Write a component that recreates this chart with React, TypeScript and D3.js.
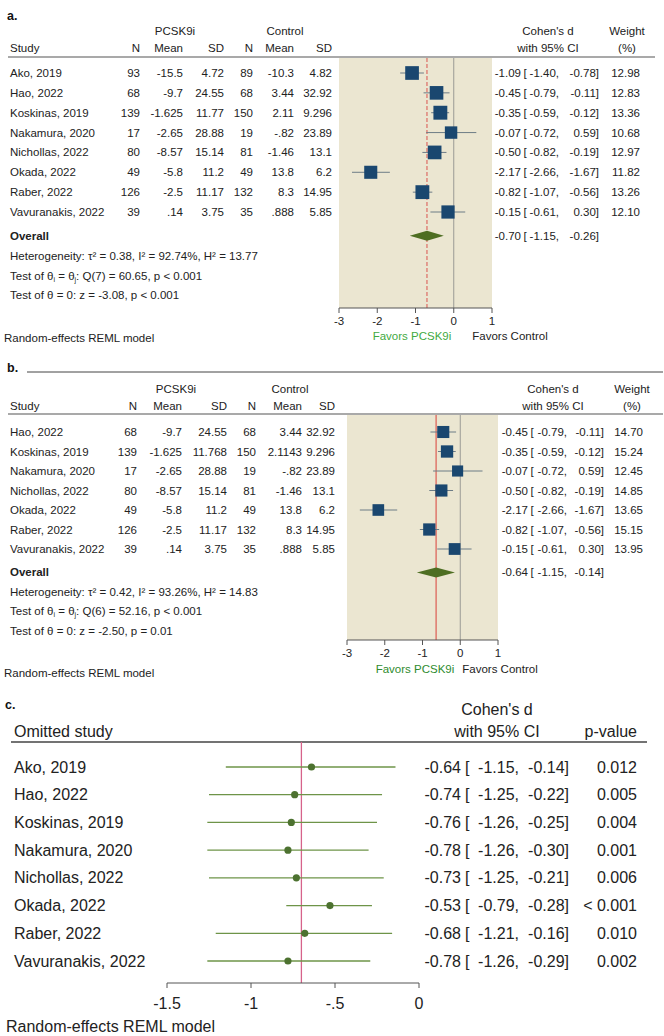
import React from 'react';
import { scaleLinear } from 'd3';

const FONT = '"Liberation Sans", Arial, Helvetica, sans-serif';

// ---- panel a: all studies ----
const studiesA = ['Ako, 2019', 'Hao, 2022', 'Koskinas, 2019', 'Nakamura, 2020', 'Nichollas, 2022', 'Okada, 2022', 'Raber, 2022', 'Vavuranakis, 2022'];
const nTreatA = ['93', '68', '139', '17', '80', '49', '126', '39'];
const meanTreatA = ['-15.5', '-9.7', '-1.625', '-2.65', '-8.57', '-5.8', '-2.5', '.14'];
const sdTreatA = ['4.72', '24.55', '11.77', '28.88', '15.14', '11.2', '11.17', '3.75'];
const nCtrlA = ['89', '68', '150', '19', '81', '49', '132', '35'];
const meanCtrlA = ['-10.3', '3.44', '2.11', '-.82', '-1.46', '13.8', '8.3', '.888'];
const sdCtrlA = ['4.82', '32.92', '9.296', '23.89', '13.1', '6.2', '14.95', '5.85'];
const dA = [-1.09, -0.45, -0.35, -0.07, -0.50, -2.17, -0.82, -0.15];
const loA = [-1.40, -0.79, -0.59, -0.72, -0.82, -2.66, -1.07, -0.61];
const hiA = [-0.78, -0.11, -0.12, 0.59, -0.19, -1.67, -0.56, 0.30];
const weightA = [12.98, 12.83, 13.36, 10.68, 12.97, 11.82, 13.26, 12.10];
const overallA = [-0.70, -1.15, -0.26];
const statsA = ['0.38', '92.74%', '13.77', '7', '60.65', 'p < 0.001', '-3.08', 'p < 0.001'];

// ---- panel b: Ako removed ----
const studiesB = ['Hao, 2022', 'Koskinas, 2019', 'Nakamura, 2020', 'Nichollas, 2022', 'Okada, 2022', 'Raber, 2022', 'Vavuranakis, 2022'];
const nTreatB = ['68', '139', '17', '80', '49', '126', '39'];
const meanTreatB = ['-9.7', '-1.625', '-2.65', '-8.57', '-5.8', '-2.5', '.14'];
const sdTreatB = ['24.55', '11.768', '28.88', '15.14', '11.2', '11.17', '3.75'];
const nCtrlB = ['68', '150', '19', '81', '49', '132', '35'];
const meanCtrlB = ['3.44', '2.1143', '-.82', '-1.46', '13.8', '8.3', '.888'];
const sdCtrlB = ['32.92', '9.296', '23.89', '13.1', '6.2', '14.95', '5.85'];
const dB = [-0.45, -0.35, -0.07, -0.50, -2.17, -0.82, -0.15];
const loB = [-0.79, -0.59, -0.72, -0.82, -2.66, -1.07, -0.61];
const hiB = [-0.11, -0.12, 0.59, -0.19, -1.67, -0.56, 0.30];
const weightB = [14.70, 15.24, 12.45, 14.85, 13.65, 15.15, 13.95];
const overallB = [-0.64, -1.15, -0.14];
const statsB = ['0.42', '93.26%', '14.83', '6', '52.16', 'p < 0.001', '-2.50', 'p = 0.01'];

// ---- panel c: leave-one-out ----
const omitted = ['Ako, 2019', 'Hao, 2022', 'Koskinas, 2019', 'Nakamura, 2020', 'Nichollas, 2022', 'Okada, 2022', 'Raber, 2022', 'Vavuranakis, 2022'];
const dC = [-0.64, -0.74, -0.76, -0.78, -0.73, -0.53, -0.68, -0.78];
const loC = [-1.15, -1.25, -1.26, -1.26, -1.25, -0.79, -1.21, -1.26];
const hiC = [-0.14, -0.22, -0.25, -0.30, -0.21, -0.28, -0.16, -0.29];
const pC = ['0.012', '0.005', '0.004', '0.001', '0.006', '< 0.001', '0.010', '0.002'];
const overallC = -0.70;

const forestTicks = [-3, -2, -1, 0, 1];
const looTicks = [-1.5, -1, -0.5, 0];
const looTickLabels = ['-1.5', '-1', '-.5', '0'];

const fmt = (v: number) => v.toFixed(2);
const TXT = '#222';

interface ForestProps {
  label: string;
  studies: string[];
  cols: string[][];
  d: number[]; lo: number[]; hi: number[]; weight: number[];
  overall: number[];
  stats: string[];
  L: any;
}

const Forest: React.FC<ForestProps> = ({ label, studies, cols, d, lo, hi, weight, overall, stats, L }) => {
  const x = scaleLinear().domain([-3, 1]).range([L.x0, L.x1]);
  const y = scaleLinear().domain([0, studies.length - 1]).range([L.rowTop, L.rowBottom]);
  const step = (L.rowBottom - L.rowTop) / (studies.length - 1);
  const yOverall = L.rowBottom + step * 1.2;
  const fs = 11.5;
  const t = (props: any, s: React.ReactNode, key?: any) => (
    <text key={key} fontSize={fs} fill={TXT} dominantBaseline="central" {...props}>{s}</text>
  );
  const ciText = (yy: number, v: number[]) => (
    <>
      {t({ x: L.ciX[0], y: yy, textAnchor: 'end' }, fmt(v[0]))}
      {t({ x: L.ciX[0] + L.brGap, y: yy }, '[')}
      {t({ x: L.ciX[1], y: yy, textAnchor: 'end' }, fmt(v[1]) + ',')}
      {t({ x: L.ciX[2], y: yy, textAnchor: 'end' }, fmt(v[2]) + ']')}
    </>
  );
  return (
    <g fontFamily={FONT}>
      <text x={7} y={L.labelY} fontSize={12.5} fontWeight="bold" dominantBaseline="central" fill="#111">{label}</text>
      {L.topLine && <line x1={27} x2={663} y1={L.topLine} y2={L.topLine} stroke="#444" strokeWidth={1} />}
      {/* headers */}
      {t({ x: L.pcskX, y: L.h1, textAnchor: 'middle' }, 'PCSK9i')}
      {t({ x: L.ctrlX, y: L.h1, textAnchor: 'middle' }, 'Control')}
      {t({ x: L.cohenX, y: L.h1, textAnchor: 'middle' }, "Cohen's d")}
      {t({ x: L.weightX, y: L.h1, textAnchor: 'middle' }, 'Weight')}
      {t({ x: 10, y: L.h2 }, 'Study')}
      {['N', 'Mean', 'SD', 'N', 'Mean', 'SD'].map((h, j) => t({ x: L.colX[j], y: L.h2, textAnchor: 'end' }, h, 'h' + j))}
      {t({ x: L.cohenX, y: L.h2, textAnchor: 'middle' }, 'with 95% CI')}
      {t({ x: L.weightX, y: L.h2, textAnchor: 'middle' }, '(%)')}
      <line x1={8} x2={L.lineEnd} y1={L.hLine} y2={L.hLine} stroke="#555" strokeWidth={1.2} />
      {/* plot region */}
      <rect x={x(-3)} y={L.hLine + 1} width={x(1) - x(-3)} height={L.axisY - L.hLine - 1} fill="#ebe6d1" />
      <line x1={x(0)} x2={x(0)} y1={L.hLine + 1} y2={L.axisY} stroke="#9a9a95" strokeWidth={1} />
      <line x1={x(overall[0])} x2={x(overall[0])} y1={L.hLine + 1} y2={L.axisY} stroke={L.refColor} strokeWidth={1} strokeDasharray={L.dashed ? '4,2' : undefined} />
      {/* rows */}
      {studies.map((s, i) => {
        const yy = y(i);
        const side = L.k * Math.sqrt(weight[i]);
        return (
          <g key={s}>
            {t({ x: 10, y: yy }, s)}
            {cols.map((c, j) => t({ x: L.colX[j], y: yy, textAnchor: 'end' }, c[i], j))}
            <line x1={x(lo[i])} x2={x(hi[i])} y1={yy} y2={yy} stroke="#6d7c86" strokeWidth={1} />
            <rect x={x(d[i]) - side / 2} y={yy - side / 2} width={side} height={side} fill="#1a476f" />
            {ciText(yy, [d[i], lo[i], hi[i]])}
            {t({ x: L.wX, y: yy, textAnchor: 'end' }, weight[i].toFixed(2))}
          </g>
        );
      })}
      {/* overall */}
      {t({ x: 10, y: yOverall, fontWeight: 'bold' }, 'Overall')}
      <path d={`M${x(overall[1])},${yOverall}L${x(overall[0])},${yOverall - 5}L${x(overall[2])},${yOverall}L${x(overall[0])},${yOverall + 5}Z`} fill="#4e6e22" />
      {ciText(yOverall, overall)}
      {t({ x: 10, y: yOverall + step }, <>Heterogeneity: τ² = {stats[0]}, I² = {stats[1]}, H² = {stats[2]}</>)}
      {t({ x: 10, y: yOverall + step * 2 }, <>Test of θ<tspan fontSize={7} dy={3}>i</tspan><tspan dy={-3}> = θ</tspan><tspan fontSize={7} dy={3}>j</tspan><tspan dy={-3}>: Q({stats[3]}) = {stats[4]}, {stats[5]}</tspan></>)}
      {t({ x: 10, y: yOverall + step * 3 }, <>Test of θ = 0: z = {stats[6]}, {stats[7]}</>)}
      {/* axis */}
      <line x1={x(-3)} x2={x(1)} y1={L.axisY} y2={L.axisY} stroke="#555" strokeWidth={1} />
      {forestTicks.map(v => (
        <g key={v}>
          <line x1={x(v)} x2={x(v)} y1={L.axisY} y2={L.axisY + 5} stroke="#555" />
          {t({ x: x(v), y: L.axisY + 13, textAnchor: 'middle' }, String(v))}
        </g>
      ))}
      {t({ x: L.favA, y: L.favY, textAnchor: 'middle', fill: L.favColor }, 'Favors PCSK9i')}
      {t({ x: L.favB, y: L.favY, textAnchor: 'middle' }, 'Favors Control')}
      {t({ x: 4, y: L.modelY }, 'Random-effects REML model')}
    </g>
  );
};

const LooPanel: React.FC = () => {
  const x = scaleLinear().domain([-1.5, 0]).range([167, 419]);
  const y = scaleLinear().domain([0, omitted.length - 1]).range([767, 961]);
  const fs = 16;
  const axisY = 983;
  const t = (props: any, s: React.ReactNode, key?: any) => (
    <text key={key} fontSize={fs} fill={TXT} dominantBaseline="central" {...props}>{s}</text>
  );
  return (
    <g fontFamily={FONT}>
      <text x={5} y={705} fontSize={12.5} fontWeight="bold" dominantBaseline="central" fill="#111">c.</text>
      {t({ x: 497, y: 709, textAnchor: 'middle' }, "Cohen's d")}
      {t({ x: 497, y: 731, textAnchor: 'middle' }, 'with 95% CI')}
      {t({ x: 637, y: 731, textAnchor: 'end' }, 'p-value')}
      {t({ x: 14, y: 731 }, 'Omitted study')}
      <line x1={11} x2={647} y1={742} y2={742} stroke="#444" strokeWidth={1.3} />
      <line x1={x(overallC)} x2={x(overallC)} y1={742} y2={axisY} stroke="#d6638a" strokeWidth={1.3} />
      {omitted.map((s, i) => {
        const yy = y(i);
        return (
          <g key={s}>
            {t({ x: 14, y: yy }, s)}
            <line x1={x(loC[i])} x2={x(hiC[i])} y1={yy} y2={yy} stroke="#6e9448" strokeWidth={1.3} />
            <circle cx={x(dC[i])} cy={yy} r={3.6} fill="#4d7230" />
            {t({ x: 461, y: yy, textAnchor: 'end' }, fmt(dC[i]))}
            {t({ x: 465, y: yy }, '[')}
            {t({ x: 519, y: yy, textAnchor: 'end' }, fmt(loC[i]) + ',')}
            {t({ x: 569, y: yy, textAnchor: 'end' }, fmt(hiC[i]) + ']')}
            {t({ x: 637, y: yy, textAnchor: 'end' }, pC[i])}
          </g>
        );
      })}
      <line x1={x(-1.5)} x2={x(0)} y1={axisY} y2={axisY} stroke="#555" strokeWidth={1} />
      {looTicks.map((v, i) => (
        <g key={v}>
          <line x1={x(v)} x2={x(v)} y1={axisY} y2={axisY + 5} stroke="#555" />
          {t({ x: x(v), y: axisY + 20, textAnchor: 'middle' }, looTickLabels[i])}
        </g>
      ))}
      {t({ x: 6, y: 1026 }, 'Random-effects REML model')}
    </g>
  );
};

const layoutA = {
  labelY: 16, topLine: 0, h1: 31, h2: 48, hLine: 57,
  colX: [140, 183, 224, 253, 294, 332], lineEnd: 655,
  pcskX: 175, ctrlX: 285, cohenX: 548, weightX: 627,
  x0: 339, x1: 492, rowTop: 73, rowBottom: 212, axisY: 308, k: 3.8,
  refColor: '#d9534f', dashed: true,
  ciX: [521, 559, 599], brGap: 2.5, wX: 640,
  favA: 412, favB: 510, favY: 336, favColor: '#3faa3f', modelY: 338,
};

const layoutB = {
  labelY: 368, topLine: 372, h1: 389, h2: 406, hLine: 414,
  colX: [137, 182, 227, 256, 302, 335], lineEnd: 663,
  pcskX: 176, ctrlX: 290, cohenX: 553, weightX: 632,
  x0: 347, x1: 498, rowTop: 432, rowBottom: 549, axisY: 640, k: 3.15,
  refColor: '#d9403a', dashed: false,
  ciX: [528, 567, 604], brGap: 2.5, wX: 643,
  favA: 415, favB: 500, favY: 669, favColor: '#2e8b2e', modelY: 673,
};

export default function App() {
  return (
    <svg width={664} height={1036} style={{ position: 'absolute', left: 0, top: 0, background: '#fff' }}>
      <rect width={664} height={1036} fill="#fff" />
      <Forest label="a." studies={studiesA}
        cols={[nTreatA, meanTreatA, sdTreatA, nCtrlA, meanCtrlA, sdCtrlA]}
        d={dA} lo={loA} hi={hiA} weight={weightA} overall={overallA} stats={statsA} L={layoutA} />
      <Forest label="b." studies={studiesB}
        cols={[nTreatB, meanTreatB, sdTreatB, nCtrlB, meanCtrlB, sdCtrlB]}
        d={dB} lo={loB} hi={hiB} weight={weightB} overall={overallB} stats={statsB} L={layoutB} />
      <LooPanel />
    </svg>
  );
}
